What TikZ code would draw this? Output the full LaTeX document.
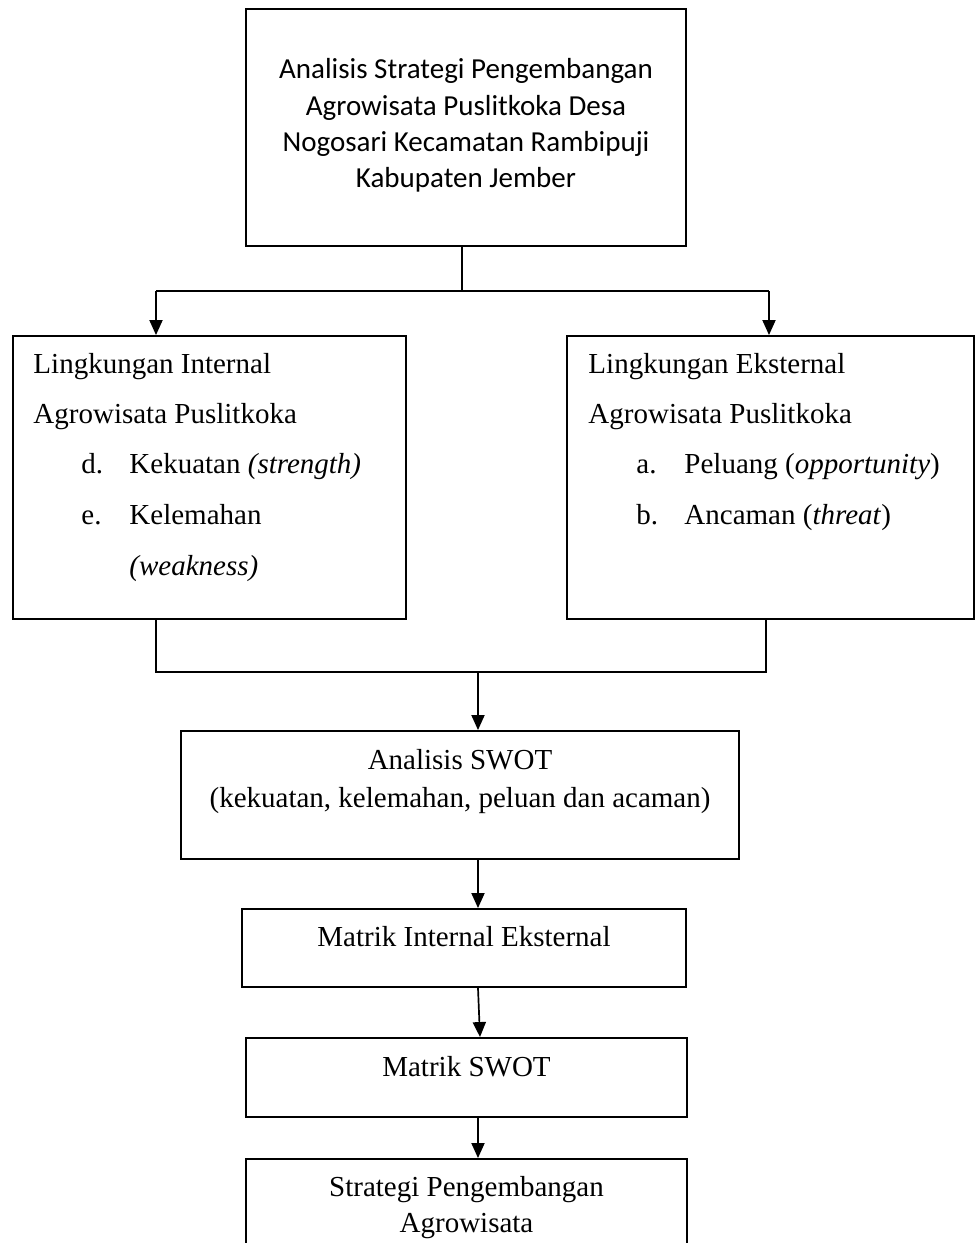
\documentclass[tikz,border=0pt]{standalone}
\usepackage{fontspec}
\setmainfont{Liberation Serif}
\newfontfamily\calibrifont{Carlito}
\usetikzlibrary{math,calc,arrows.meta}
\newdimen\pxu
\pxu=0.41379pt

\begin{document}
\begin{tikzpicture}[x=0.41379pt,y=-0.41379pt,>/.tip={Triangle[length=6.2pt,width=5.4pt]},
    font=\fontsize{12}{14.4}\selectfont,
    box/.style={draw,line width=0.8pt,inner sep=0pt},
    link/.style={line width=0.7pt},
    txt/.style={inner sep=0pt,anchor=base},
    txtl/.style={inner sep=0pt,anchor=base west},
    titletxt/.style={txt,font=\calibrifont\fontsize{12}{14.4}\selectfont}]
    \tikzmath{\ax=478;\sy=291;\my=672;}
    \useasboundingbox (0,0) rectangle (975,1243);
    \fill[white] (0,0) rectangle (975,1243);
    % The boxes
    \node[box,minimum width=440*\pxu,minimum height=237*\pxu] (title) at (466,127.5) {};
    \node[box,minimum width=393*\pxu,minimum height=283*\pxu] (internal) at (209.5,477.5) {};
    \node[box,minimum width=407*\pxu,minimum height=283*\pxu] (external) at (770.5,477.5) {};
    \node[box,minimum width=558*\pxu,minimum height=128*\pxu] (swot) at (460,795) {};
    \node[box,minimum width=444*\pxu,minimum height=78*\pxu] (mie) at (464,948) {};
    \node[box,minimum width=441*\pxu,minimum height=79*\pxu] (mswot) at (466.5,1077.5) {};
    \node[box,minimum width=441*\pxu,minimum height=103*\pxu] (strategi) at (466.5,1210.5) {};

    % The split below the title
    \coordinate (split) at (462,\sy);
    \coordinate (splitL) at (156,\sy);
    \coordinate (splitR) at (769,\sy);
    \draw[link] (title.south -| split) -- (split);
    \draw[link] (splitL) -- (splitR);
    \draw[link,->] (splitL) -- (splitL |- internal.north);
    \draw[link,->] (splitR) -- (splitR |- external.north);

    % The merge and the chain downwards
    \coordinate (mergeL) at (156,\my);
    \coordinate (mergeR) at (766,\my);
    \coordinate (merge) at (\ax,\my);
    \draw[link] (internal.south -| mergeL) -- (mergeL) -- (mergeR) -- (external.south -| mergeR);
    \draw[link,->] (merge) -- (merge |- swot.north);
    \draw[link,->] (swot.south -| merge) -- (mie.north -| merge);
    \draw[link,->] (mie.south -| merge) -- ($(mswot.north -| merge)+(2,0)$);
    \draw[link,->] (mswot.south -| merge) -- (strategi.north -| merge);

    % The texts
    \node[titletxt] (title1) at (466,78) {Analisis Strategi Pengembangan};
    \node[titletxt] (title2) at (466,115) {Agrowisata Puslitkoka Desa};
    \node[titletxt] (title3) at (466,151) {Nogosari Kecamatan Rambipuji};
    \node[titletxt] (title4) at (466,187) {Kabupaten Jember};

    \node[txtl] (int1) at (33,373) {Lingkungan Internal};
    \node[txtl] (int2) at (33,423) {Agrowisata Puslitkoka};
    \node[txtl] (int3a) at (81,473) {d.};
    \node[txtl] (int3b) at (129,473) {Kekuatan \textit{(strength)}};
    \node[txtl] (int4a) at (81,524) {e.};
    \node[txtl] (int4b) at (129,524) {Kelemahan};
    \node[txtl] (int5) at (129,575) {\textit{(weakness)}};

    \node[txtl] (ext1) at (588,373) {Lingkungan Eksternal};
    \node[txtl] (ext2) at (588,423) {Agrowisata Puslitkoka};
    \node[txtl] (ext3a) at (636,473) {a.};
    \node[txtl] (ext3b) at (684,473) {Peluang (\textit{opportunity})};
    \node[txtl] (ext4a) at (636,524) {b.};
    \node[txtl] (ext4b) at (684,524) {Ancaman (\textit{threat})};

    \node[txt] (swot1) at (460,769) {Analisis SWOT};
    \node[txt] (swot2) at (460,807) {(kekuatan, kelemahan, peluan dan acaman)};
    \node[txt] (mie1) at (464,946) {Matrik Internal Eksternal};
    \node[txt] (mswot1) at (466.5,1076) {Matrik SWOT};
    \node[txt] (strat1) at (466.5,1196) {Strategi Pengembangan};
    \node[txt] (strat2) at (466.5,1232) {Agrowisata};
\end{tikzpicture}
\end{document}
